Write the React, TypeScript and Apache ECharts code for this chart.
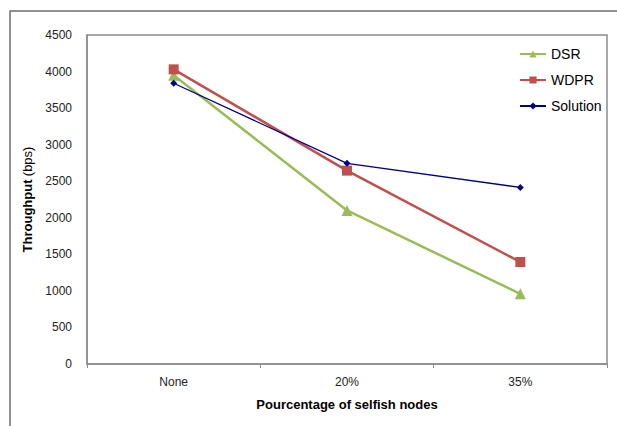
import React, { useEffect, useRef } from "react";
import * as echarts from "echarts";

// Share of selfish nodes in the network
const categories = ["None", "20%", "35%"];

// Throughput in bits per second for each routing protocol
const dsr = [3950, 2100, 960];
const wdpr = [4030, 2645, 1395];
const solution = [3840, 2745, 2415];

const yTicks = { min: 0, max: 4500, interval: 500 };

export default function App() {
  const ref = useRef<HTMLDivElement>(null);

  useEffect(() => {
    if (!ref.current) return;
    const chart = echarts.init(ref.current, undefined, { renderer: "svg" });
    const font = "Liberation Sans, Arial, sans-serif";
    chart.setOption({
      animation: false,
      backgroundColor: "#ffffff",
      textStyle: { fontFamily: font },
      grid: {
        left: 87,
        top: 35,
        right: 10,
        bottom: 62,
        show: true,
        borderColor: "#8c8c8c",
        borderWidth: 1.5,
      },
      graphic: [
        {
          type: "polyline",
          shape: { points: [[10, 430], [10, 11], [620, 11]] },
          style: { stroke: "#6e6e6e", lineWidth: 1.5, fill: "none" },
          silent: true,
        },
      ],
      legend: {
        orient: "vertical",
        left: 514,
        top: 42,
        itemWidth: 26,
        itemHeight: 9,
        itemGap: 12,
        textStyle: { fontFamily: font, fontSize: 14, color: "#000" },
        data: ["DSR", "WDPR", "Solution"],
      },
      xAxis: {
        type: "category",
        data: categories,
        boundaryGap: true,
        axisLine: { lineStyle: { color: "#8c8c8c", width: 1.5 } },
        axisTick: { show: true, length: 4, lineStyle: { color: "#8c8c8c" } },
        axisLabel: { color: "#222", fontSize: 12, margin: 12, fontFamily: font },
        name: "Pourcentage of selfish nodes",
        nameLocation: "middle",
        nameGap: 34,
        nameTextStyle: { fontSize: 13, fontWeight: "bold", color: "#000", fontFamily: font },
      },
      yAxis: {
        type: "value",
        min: yTicks.min,
        max: yTicks.max,
        interval: yTicks.interval,
        splitLine: { show: false },
        axisLine: { show: true, lineStyle: { color: "#8c8c8c", width: 1.5 } },
        axisTick: { show: false },
        axisLabel: {
          color: "#222",
          fontSize: 12,
          margin: 15,
          fontFamily: font,
          formatter: (v: number) => String(v),
        },
        name: "{b|Throughput} {n|(bps)}",
        nameLocation: "middle",
        nameRotate: 90,
        nameGap: 49,
        nameTextStyle: {
          fontFamily: font,
          rich: {
            b: { fontSize: 13, fontWeight: "bold", color: "#000", fontFamily: font },
            n: { fontSize: 13, color: "#000", fontFamily: font },
          },
        },
      },
      series: [
        {
          name: "DSR",
          type: "line",
          data: dsr,
          symbol: "triangle",
          symbolSize: 11,
          itemStyle: { color: "#9bbb59" },
          lineStyle: { color: "#9bbb59", width: 2.5 },
        },
        {
          name: "WDPR",
          type: "line",
          data: wdpr,
          symbol: "rect",
          symbolSize: 10,
          itemStyle: { color: "#c0504d" },
          lineStyle: { color: "#c0504d", width: 2.5 },
        },
        {
          name: "Solution",
          type: "line",
          data: solution,
          symbol: "diamond",
          symbolSize: 7,
          itemStyle: { color: "#000080" },
          lineStyle: { color: "#000080", width: 1.3 },
        },
      ],
    });
    return () => chart.dispose();
  }, []);

  return (
    <div
      ref={ref}
      style={{ position: "fixed", left: 0, top: 0, width: 617, height: 426 }}
    />
  );
}
